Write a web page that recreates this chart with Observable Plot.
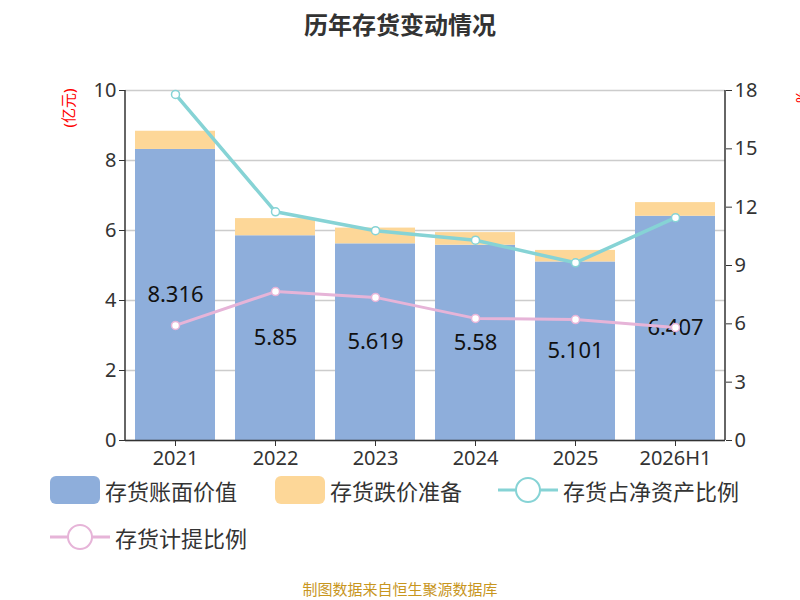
<!DOCTYPE html>
<html><head><meta charset="utf-8">
<script src="https://cdn.jsdelivr.net/npm/d3@7"></script>
<script src="https://cdn.jsdelivr.net/npm/@observablehq/plot@0.6"></script>
<style>
body{margin:0;background:#fff;font-family:"Noto Sans CJK SC","Noto Sans",sans-serif;}
#title{position:absolute;left:0;top:6px;width:800px;text-align:center;font-size:24px;font-weight:bold;color:#333;}
#chart{position:absolute;left:0;top:0;}
.leg{position:absolute;font-size:22px;color:#333;display:flex;align-items:center;}
#src{position:absolute;top:578px;width:800px;text-align:center;font-size:15px;color:#c8961e;}
</style></head><body>
<div id="title">历年存货变动情况</div>
<div id="chart"></div>
<div class="leg" style="left:50px;top:474px"><svg width="50" height="30"><rect x="0" y="1" width="50" height="28" rx="6" fill="#8eaedb"/></svg>&nbsp;存货账面价值</div>
<div class="leg" style="left:275px;top:474px"><svg width="50" height="30"><rect x="0" y="1" width="50" height="28" rx="6" fill="#fdd798"/></svg>&nbsp;存货跌价准备</div>
<div class="leg" style="left:498px;top:474px"><svg width="60" height="30"><line x1="0" y1="15" x2="60" y2="15" stroke="#86d3d5" stroke-width="3"/><circle cx="30" cy="15" r="12" fill="#fff" stroke="#86d3d5" stroke-width="2"/></svg>&nbsp;存货占净资产比例</div>
<div class="leg" style="left:50px;top:521px"><svg width="60" height="30"><line x1="0" y1="15" x2="60" y2="15" stroke="#e6b4d8" stroke-width="3"/><circle cx="30" cy="15" r="12" fill="#fff" stroke="#e6b4d8" stroke-width="2"/></svg>&nbsp;存货计提比例</div>
<div id="src">制图数据来自恒生聚源数据库</div>
<script>
const years = ["2021","2022","2023","2024","2025","2026H1"];
const bookValue = [8.316,5.85,5.619,5.58,5.101,6.407];
const reserve = [0.52,0.49,0.45,0.36,0.33,0.39];
const ratioNet = [17.8,11.76,10.79,10.3,9.14,11.46];
const ratioProv = [5.92,7.66,7.36,6.28,6.22,5.81];
const k = 10/18;
const rows = years.map((y,i)=>({year:y,book:bookValue[i],res:reserve[i],net:ratioNet[i]*k,prov:ratioProv[i]*k}));
const stack = [];
rows.forEach(r=>{stack.push({year:r.year,y1:0,y2:r.book,c:"#8eaedb"});stack.push({year:r.year,y1:r.book,y2:r.book+r.res,c:"#fdd798"});});
const p = Plot.plot({
  width:800,height:475,marginTop:90,marginBottom:35,marginLeft:125,marginRight:75,
  style:{fontSize:"20px",fontFamily:"'Noto Sans','Noto Sans CJK SC',sans-serif",color:"#333"},
  x:{domain:years,paddingInner:0.2,paddingOuter:0.1,label:null},
  y:{domain:[0,10],label:null},
  marks:[
    Plot.gridY([0,2,4,6,8,10],{stroke:"#ccc",strokeOpacity:1,strokeWidth:1.5}),
    Plot.rectY(stack,{x:"year",y1:"y1",y2:"y2",fill:"c"}),
    Plot.text(rows,{x:"year",y:d=>d.book/2,text:d=>String(d.book),fontSize:22,fill:"#111"}),
    Plot.line(rows,{x:"year",y:"net",stroke:"#86d3d5",strokeWidth:3.5}),
    Plot.dot(rows,{x:"year",y:"net",r:4,fill:"#fff",stroke:"#86d3d5",strokeWidth:1.5}),
    Plot.line(rows,{x:"year",y:"prov",stroke:"#e6b4d8",strokeWidth:3}),
    Plot.dot(rows,{x:"year",y:"prov",r:4,fill:"#fff",stroke:"#e6b4d8",strokeWidth:1.5}),
    Plot.axisY([0,2,4,6,8,10],{anchor:"left",tickSize:6,label:null,fontSize:20}),
    Plot.axisY([0,3,6,9,12,15,18].map(v=>v*k),{anchor:"right",tickSize:6,tickFormat:v=>String(Math.round(v/k)),label:null,fontSize:20}),
    Plot.axisX({tickSize:6,label:null,tickPadding:4,fontSize:20}),
    Plot.ruleY([0],{stroke:"#333",strokeWidth:1.5}),
    Plot.text(["(亿元)"],{frameAnchor:"top-left",dx:-62,dy:-2,rotate:-90,fill:"red",fontSize:15,textAnchor:"end"}),
    Plot.text(["%"],{frameAnchor:"top-right",dx:70,dy:0,rotate:-90,fill:"red",fontSize:15,textAnchor:"end"})
  ]
});
const svg=d3.select(p);
svg.append("line").attr("x1",125).attr("x2",125).attr("y1",90).attr("y2",440).attr("stroke","#333").attr("stroke-width",1.5);
svg.append("line").attr("x1",725).attr("x2",725).attr("y1",90).attr("y2",440).attr("stroke","#333").attr("stroke-width",1.5);
document.getElementById("chart").appendChild(p);
</script>
</body></html>
